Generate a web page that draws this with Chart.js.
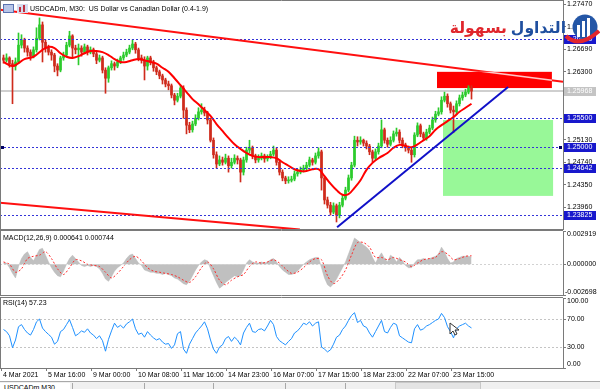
<!DOCTYPE html>
<html>
<head>
<meta charset="utf-8">
<script src="https://cdn.jsdelivr.net/npm/chart.js@4.4.1/dist/chart.umd.min.js"></script>
<style>
  html, body { margin: 0; padding: 0; background: #fff; }
  #wrap { position: relative; width: 600px; height: 389px; overflow: hidden; background: #fff; font-family: "Liberation Sans", Arial, sans-serif; }
  #wrap canvas { position: absolute; left: 0; }
  #tabs { position: absolute; left: 0; top: 381px; width: 600px; height: 8px; background: #f0f0f0; border-top: 1px solid #a8a8a8; }
  #tabs .t { position: absolute; top: 1px; height: 8px; border-left: 1px solid #a8a8a8; font-size: 7px; line-height: 9px; color: #000; padding-left: 4px; overflow: hidden; }
  #tabs .a { background: #fff; }
  #tabs .pop { position: absolute; left: 395px; top: 0; width: 84px; height: 8px; background: #e4e4e4; border: 1px solid #c8c8c8; }
</style>
</head>
<body>
<div id="wrap">
  <canvas id="main" width="600" height="230" style="top:0"></canvas>
  <canvas id="macd" width="600" height="66" style="top:230px"></canvas>
  <canvas id="rsi" width="600" height="85" style="top:296px"></canvas>
  <div id="tabs">
    <div class="t a" style="left:0;width:66px;border-left:none">USDCADm,M30</div>
    <div class="t" style="left:72px;width:66px"></div>
    <div class="t" style="left:144px;width:64px"></div>
    <div class="t" style="left:213px;width:66px"></div>
    <div class="t" style="left:285px;width:56px"></div>
    <div class="t" style="left:345px;width:40px"></div>
    <div class="pop"></div>
  </div>
</div>
<script>
// M30 USDCAD, one candle ~ every 3px of the screenshot
const closes = [
  1.2650, 1.2654, 1.2644, 1.2640, 1.2647, 1.2676, 1.2685, 1.2671, 1.2664, 1.2657,
  1.2668, 1.2688, 1.2711, 1.2681, 1.2671, 1.2664, 1.2659, 1.2640, 1.2633, 1.2654,
  1.2659, 1.2676, 1.2692, 1.2671, 1.2668, 1.2671, 1.2664, 1.2673, 1.2664, 1.2668,
  1.2661, 1.2650, 1.2654, 1.2633, 1.2619, 1.2637, 1.2644, 1.2640, 1.2647, 1.2654,
  1.2659, 1.2664, 1.2671, 1.2678, 1.2668, 1.2654, 1.2650, 1.2640, 1.2654, 1.2647,
  1.2637, 1.2630, 1.2623, 1.2616, 1.2609, 1.2606, 1.2590, 1.2581, 1.2588, 1.2602,
  1.2564, 1.2538, 1.2530, 1.2540, 1.2550, 1.2561, 1.2564, 1.2559, 1.2547, 1.2512,
  1.2487, 1.2471, 1.2478, 1.2474, 1.2481, 1.2468, 1.2474, 1.2481, 1.2478, 1.2457,
  1.2478, 1.2495, 1.2499, 1.2485, 1.2478, 1.2481, 1.2485, 1.2480, 1.2483, 1.2488,
  1.2495, 1.2474, 1.2457, 1.2447, 1.2442, 1.2443, 1.2445, 1.2454, 1.2457, 1.2461,
  1.2464, 1.2469, 1.2478, 1.2474, 1.2485, 1.2492, 1.2447, 1.2409, 1.2400, 1.2388,
  1.2399, 1.2383, 1.2400, 1.2412, 1.2426, 1.2447, 1.2469, 1.2512, 1.2509, 1.2512,
  1.2507, 1.2502, 1.2492, 1.2481, 1.2492, 1.2502, 1.2530, 1.2512, 1.2505, 1.2512,
  1.2523, 1.2526, 1.2512, 1.2504, 1.2499, 1.2495, 1.2487, 1.2521, 1.2537, 1.2523,
  1.2516, 1.2526, 1.2533, 1.2547, 1.2557, 1.2561, 1.2581, 1.2588, 1.2575, 1.2564,
  1.2561, 1.2575, 1.2585, 1.2590, 1.2595, 1.2602, 1.25968
];
const highs = [
  1.2659, 1.2661, 1.2656, 1.2650, 1.2654, 1.2697, 1.2694, 1.2688, 1.2675, 1.2668,
  1.2673, 1.2706, 1.2723, 1.2716, 1.2685, 1.2676, 1.2668, 1.2662, 1.2644, 1.2657,
  1.2664, 1.2681, 1.2700, 1.2694, 1.2676, 1.2678, 1.2675, 1.2678, 1.2676, 1.2673,
  1.2671, 1.2664, 1.2659, 1.2657, 1.2637, 1.2640, 1.2649, 1.2647, 1.2652, 1.2657,
  1.2664, 1.2669, 1.2676, 1.2685, 1.2681, 1.2671, 1.2659, 1.2656, 1.2657, 1.2657,
  1.2650, 1.2640, 1.2633, 1.2626, 1.2619, 1.2614, 1.2609, 1.2593, 1.2593, 1.2607,
  1.2606, 1.2568, 1.2543, 1.2545, 1.2556, 1.2568, 1.2575, 1.2569, 1.2562, 1.2550,
  1.2516, 1.2492, 1.2485, 1.2483, 1.2488, 1.2485, 1.2481, 1.2487, 1.2485, 1.2481,
  1.2483, 1.2500, 1.2512, 1.2502, 1.2488, 1.2487, 1.2490, 1.2488, 1.2487, 1.2493,
  1.2502, 1.2499, 1.2478, 1.2461, 1.2450, 1.2449, 1.2450, 1.2459, 1.2462, 1.2466,
  1.2469, 1.2474, 1.2483, 1.2481, 1.2490, 1.2499, 1.2495, 1.2450, 1.2414, 1.2405,
  1.2404, 1.2402, 1.2405, 1.2418, 1.2431, 1.2452, 1.2474, 1.2519, 1.2518, 1.2518,
  1.2514, 1.2511, 1.2505, 1.2495, 1.2497, 1.2507, 1.2547, 1.2533, 1.2516, 1.2518,
  1.2528, 1.2533, 1.2530, 1.2516, 1.2507, 1.2502, 1.2499, 1.2525, 1.2542, 1.2540,
  1.2526, 1.2531, 1.2538, 1.2552, 1.2562, 1.2568, 1.2587, 1.2595, 1.2592, 1.2578,
  1.2571, 1.2580, 1.2590, 1.2595, 1.2600, 1.2606, 1.2606
];
const lows = [
  1.2645, 1.2647, 1.2638, 1.2575, 1.2633, 1.2644, 1.2671, 1.2664, 1.2657, 1.2650,
  1.2654, 1.2664, 1.2685, 1.2647, 1.2664, 1.2659, 1.2650, 1.2630, 1.2623, 1.2630,
  1.2650, 1.2656, 1.2673, 1.2654, 1.2661, 1.2642, 1.2657, 1.2661, 1.2659, 1.2661,
  1.2656, 1.2644, 1.2647, 1.2628, 1.2593, 1.2612, 1.2633, 1.2633, 1.2637, 1.2644,
  1.2650, 1.2656, 1.2661, 1.2668, 1.2662, 1.2649, 1.2645, 1.2616, 1.2633, 1.2642,
  1.2631, 1.2625, 1.2618, 1.2609, 1.2604, 1.2599, 1.2585, 1.2573, 1.2578, 1.2585,
  1.2550, 1.2523, 1.2525, 1.2526, 1.2537, 1.2547, 1.2557, 1.2554, 1.2540, 1.2509,
  1.2481, 1.2464, 1.2468, 1.2469, 1.2471, 1.2457, 1.2464, 1.2471, 1.2471, 1.2440,
  1.2452, 1.2474, 1.2490, 1.2480, 1.2473, 1.2474, 1.2478, 1.2474, 1.2476, 1.2480,
  1.2485, 1.2469, 1.2452, 1.2442, 1.2437, 1.2438, 1.2440, 1.2442, 1.2450, 1.2454,
  1.2457, 1.2461, 1.2466, 1.2469, 1.2471, 1.2481, 1.2426, 1.2402, 1.2395, 1.2383,
  1.2385, 1.2371, 1.2378, 1.2397, 1.2409, 1.2423, 1.2443, 1.2466, 1.2502, 1.2505,
  1.2502, 1.2497, 1.2487, 1.2474, 1.2478, 1.2488, 1.2499, 1.2507, 1.2500, 1.2502,
  1.2509, 1.2519, 1.2507, 1.2499, 1.2493, 1.2490, 1.2474, 1.2483, 1.2518, 1.2518,
  1.2511, 1.2512, 1.2523, 1.2530, 1.2543, 1.2554, 1.2557, 1.2578, 1.2569, 1.2559,
  1.2525, 1.2557, 1.2571, 1.2581, 1.2587, 1.2592, 1.2583
];
const firstOpen = 1.2654;

// red moving average, read at these candle positions
const maIdx = [0, 3, 5, 7, 10, 13, 15, 17, 19, 21, 23, 25, 27, 29, 31, 33, 35, 37, 39, 41,
  43, 45, 47, 49, 51, 53, 55, 57, 59, 61, 63, 65, 67, 69, 71, 73, 75, 77, 79, 81,
  83, 85, 87, 89, 91, 93, 95, 97, 99, 101, 103, 105, 107, 109, 111, 113, 115, 117, 119, 121,
  123, 125, 128, 130, 132, 134, 136, 138, 140, 142, 144, 146, 148, 150, 152, 154, 156];
const maVal = [1.2647, 1.2640, 1.2645, 1.2652, 1.2656, 1.2668, 1.2673, 1.2671, 1.2662, 1.2656,
  1.2654, 1.2657, 1.2662, 1.2666, 1.2666, 1.2664, 1.2659, 1.2652, 1.2647, 1.2647,
  1.2650, 1.2652, 1.2650, 1.2647, 1.2644, 1.2637, 1.2630, 1.2619, 1.2607, 1.2595,
  1.2583, 1.2574, 1.2564, 1.2554, 1.2540, 1.2528, 1.2516, 1.2505, 1.2497, 1.2490,
  1.2485, 1.2483, 1.2483, 1.2483, 1.2481, 1.2474, 1.2468, 1.2462, 1.2459, 1.2459,
  1.2462, 1.2462, 1.2450, 1.2437, 1.2426, 1.2418, 1.2419, 1.2430, 1.2443, 1.2461,
  1.2473, 1.2481, 1.2490, 1.2499, 1.2504, 1.2502, 1.2500, 1.2505, 1.2512, 1.2519,
  1.2530, 1.2538, 1.2545, 1.2552, 1.2561, 1.2568, 1.2575];

// MACD(12,26,9): histogram per candle, signal read every 2 candles
const macdHist = [
  0.0001, 0.0001, -0.0003, -0.0008, -0.0012, -0.0002, 0.0005, 0.0009, 0.0011, 0.0006,
  0.0003, 0.0008, 0.0013, 0.0014, 0.0008, 0.0002, -0.0003, -0.0007, -0.0010, -0.0011,
  -0.0006, 0.0000, 0.0005, 0.0008, 0.0005, 0.0002, -0.0001, -0.0002, -0.0001, -0.0002,
  -0.0001, -0.0002, -0.0004, -0.0008, -0.0013, -0.0015, -0.0011, -0.0006, -0.0003, -0.0001,
  0.0001, 0.0005, 0.0008, 0.0009, 0.0005, 0.0001, -0.0001, -0.0005, -0.0006, -0.0007,
  -0.0007, -0.0008, -0.0008, -0.0009, -0.0008, -0.0009, -0.0010, -0.0012, -0.0013, -0.0015,
  -0.0017, -0.0018, -0.0015, -0.0010, -0.0005, -0.0001, 0.0002, 0.0004, 0.0003, -0.0004,
  -0.0010, -0.0016, -0.0021, -0.0019, -0.0016, -0.0014, -0.0012, -0.0010, -0.0011, -0.0010,
  -0.0005, 0.0001, 0.0004, 0.0002, 0.0001, 0.0001, 0.0002, 0.0001, 0.0002, 0.0004,
  0.0005, 0.0002, -0.0002, -0.0005, -0.0007, -0.0009, -0.0009, -0.0008, -0.0006, -0.0003,
  0.0000, 0.0002, 0.0004, 0.0005, 0.0006, 0.0006, -0.0003, -0.0012, -0.0018, -0.0020,
  -0.0017, -0.0013, -0.0008, -0.0003, 0.0002, 0.0009, 0.0016, 0.0023, 0.0021, 0.0019,
  0.0017, 0.0015, 0.0012, 0.0006, 0.0001, 0.0006, 0.0010, 0.0005, 0.0002, 0.0008,
  0.0006, 0.0002, 0.0006, 0.0003, -0.0001, -0.0003, -0.0003, 0.0001, 0.0004, 0.0004,
  0.0005, 0.0004, 0.0005, 0.0006, 0.0007, 0.0009, 0.0015, 0.0011, 0.0005, 0.0001,
  0.0002, 0.0005, 0.0006, 0.0007, 0.0007, 0.0007, 0.000641
];
const macdSignal = [
  0.0002, 0.0000, -0.0007, -0.0004, 0.0005, 0.0007, 0.0008, 0.0011, 0.0005, -0.0004,
  -0.0009, -0.0003, 0.0004, 0.0003, 0.0000, -0.0001, -0.0002, -0.0007, -0.0012, -0.0008,
  -0.0002, 0.0004, 0.0007, 0.0003, -0.0003, -0.0006, -0.0007, -0.0008, -0.0009, -0.0011,
  -0.0014, -0.0016, -0.0011, -0.0003, 0.0002, -0.0004, -0.0014, -0.0018, -0.0014, -0.0011,
  -0.0009, -0.0002, 0.0002, 0.0001, 0.0002, 0.0004, 0.0001, -0.0004, -0.0008, -0.0007,
  -0.0003, 0.0002, 0.0005, 0.0004, -0.0010, -0.0017, -0.0013, -0.0005, 0.0008, 0.0019,
  0.0019, 0.0015, 0.0006, 0.0006, 0.0004, 0.0006, 0.0004, 0.0002, -0.0002, 0.0001,
  0.0004, 0.0005, 0.0006, 0.0011, 0.0009, 0.0004, 0.0005, 0.0007, 0.000744
];
const signalStep = 2;

// RSI(14)
const rsiVals = [
  55, 52, 46, 29, 40, 59, 62, 55, 50, 47,
  55, 66, 70, 57, 52, 48, 44, 34, 38, 52,
  55, 62, 69, 58, 46, 49, 53, 51, 56, 50,
  47, 42, 46, 39, 24, 41, 53, 64, 58, 61,
  57, 63, 66, 70, 56, 48, 50, 44, 52, 47,
  43, 40, 42, 37, 34, 35, 28, 33, 49, 52,
  27, 21, 34, 42, 50, 55, 60, 66, 56, 40,
  27, 21, 30, 33, 42, 45, 38, 44, 40, 33,
  50, 58, 64, 52, 51, 55, 56, 53, 60, 68,
  62, 45, 39, 36, 33, 38, 42, 50, 53, 58,
  64, 62, 66, 60, 64, 66, 30, 27, 23, 26,
  34, 44, 47, 55, 60, 68, 75, 79, 65, 68,
  60, 58, 50, 44, 52, 60, 68, 52, 50, 58,
  64, 62, 46, 43, 40, 37, 36, 56, 62, 54,
  56, 60, 62, 65, 68, 70, 78, 72, 59, 52,
  43, 56, 60, 62, 64, 60, 57.23
];

const timeLabels = ['4 Mar 2021', '5 Mar 16:00', '9 Mar 00:00', '10 Mar 08:00', '11 Mar 16:00',
  '14 Mar 23:00', '16 Mar 07:00', '17 Mar 15:00', '18 Mar 23:00', '22 Mar 07:00', '23 Mar 15:00'];
const timeTickIdx = [-0.83, 14.17, 29.17, 44.17, 59.17, 74.17, 89.17, 104.17, 119.17, 134.17, 149.17];

const priceTicks = [1.2747, 1.2708, 1.2669, 1.2630, 1.2591, 1.2552, 1.2513, 1.2474, 1.2435, 1.2396];
const levelPrices = [1.2687, 1.2550, 1.2500, 1.24642, 1.23825];
const bidPrice = 1.25968;
const macdTicks = [0.002919, 0, -0.002698];
const rsiTicks = [100, 70, 30, 0];
const rsiLevels = [70, 30];

// drawn objects, as [candle index, price]
const upperChannel = [[-1.17, 1.2737], [186.5, 1.2613]];
const lowerChannel = [[-1.17, 1.2404], [98.8, 1.2358]];
const trendLine = [[111.2, 1.2362], [168.2, 1.2604]];
const redZone = [144.5, 182.8, 1.2630, 1.2602];
const greenZone = [146.5, 183.2, 1.2547, 1.2416];

const FONT = '"Liberation Sans", Arial, sans-serif';
const X_MIN = -1.1667, X_MAX = 186.5;
const AXIS = '#7a7a7a';
Chart.defaults.font.family = FONT;
Chart.defaults.font.size = 7;

const opens = closes.map((c, i) => (i === 0 ? firstOpen : closes[i - 1]));
const candleCol = closes.map((c, i) => (c >= opens[i] ? '#2ccb2c' : '#cf2b1c'));

function hiddenX() {
  return { type: 'linear', min: X_MIN, max: X_MAX, offset: false, display: false, grid: { offset: false } };
}

function sideAxis(min, max, tickVals, showLabels) {
  return {
    position: 'right', min: min, max: max,
    afterBuildTicks: s => { s.ticks = tickVals.map(v => ({ value: v })); },
    afterFit: s => { s.width = 37; s.paddingTop = 0; s.paddingBottom = 0; },
    grid: { drawOnChartArea: false, drawTicks: true, tickLength: 3, color: AXIS },
    border: { display: true, color: AXIS },
    ticks: { display: showLabels, color: '#000', padding: 1, font: { size: 7 }, callback: v => Number(v).toFixed(5) }
  };
}

function frame(chart, bottom) {
  const { ctx, chartArea: a } = chart;
  ctx.save();
  ctx.strokeStyle = AXIS;
  ctx.lineWidth = 1;
  ctx.beginPath();
  ctx.moveTo(0.5, a.top); ctx.lineTo(0.5, a.bottom);
  const t = Math.max(a.top - 0.5, 0.5);
  ctx.moveTo(0, t); ctx.lineTo(a.right, t);
  if (bottom) { ctx.moveTo(0, a.bottom + 0.5); ctx.lineTo(a.right, a.bottom + 0.5); }
  ctx.stroke();
  ctx.restore();
}

function sideLabels(chart, vals, offs, digits) {
  const { ctx, scales: { y } } = chart;
  ctx.save();
  ctx.font = '7px ' + FONT;
  ctx.fillStyle = '#000';
  ctx.textBaseline = 'middle';
  vals.forEach((v, k) => {
    const txt = v.toFixed(digits);
    ctx.fillText(txt, y.left + (txt[0] === '-' ? 2 : 4), y.getPixelForValue(v) + offs[k]);
  });
  ctx.restore();
}

function hDotted(chart, v, col) {
  const { ctx, chartArea: a, scales: { y } } = chart;
  const yy = Math.round(y.getPixelForValue(v)) + 0.5;
  ctx.save();
  ctx.strokeStyle = col;
  ctx.setLineDash([2, 2]);
  ctx.beginPath(); ctx.moveTo(a.left, yy); ctx.lineTo(a.right, yy); ctx.stroke();
  ctx.restore();
}

const mainDecor = {
  id: 'mainDecor',
  beforeDatasetsDraw(chart) {
    const { ctx, chartArea: a, scales: { x, y } } = chart;
    ctx.save();
    ctx.beginPath(); ctx.rect(a.left, a.top, a.right - a.left, a.bottom - a.top); ctx.clip();
    const zone = (z, col) => {
      const x0 = x.getPixelForValue(z[0]), x1 = x.getPixelForValue(z[1]);
      const y0 = y.getPixelForValue(z[2]), y1 = y.getPixelForValue(z[3]);
      ctx.fillStyle = col;
      ctx.fillRect(x0, y0, x1 - x0, y1 - y0);
    };
    zone(greenZone, '#98f898');
    zone(redZone, '#ff0000');
    const yb = Math.round(y.getPixelForValue(bidPrice));
    ctx.fillStyle = '#cfcfcf';
    ctx.fillRect(a.left, yb - 1, a.right - a.left, 2);
    ctx.restore();
  },
  afterDatasetsDraw(chart) {
    const { ctx, chartArea: a, scales: { x, y } } = chart;
    levelPrices.forEach(v => hDotted(chart, v, '#3434d8'));
    ctx.save();
    ctx.beginPath(); ctx.rect(a.left, a.top, a.right - a.left, a.bottom - a.top); ctx.clip();
    const seg = (p, col, w) => {
      ctx.strokeStyle = col; ctx.lineWidth = w;
      ctx.beginPath();
      ctx.moveTo(x.getPixelForValue(p[0][0]), y.getPixelForValue(p[0][1]));
      ctx.lineTo(x.getPixelForValue(p[1][0]), y.getPixelForValue(p[1][1]));
      ctx.stroke();
    };
    seg(upperChannel, '#ff1010', 2);
    seg(lowerChannel, '#ff1010', 2);
    seg(trendLine, '#1010c8', 2);
    // the channel line shows light where it crosses the filled red zone
    const rx0 = x.getPixelForValue(redZone[0]), rx1 = x.getPixelForValue(redZone[1]);
    const ry0 = y.getPixelForValue(redZone[2]), ry1 = y.getPixelForValue(redZone[3]);
    ctx.beginPath(); ctx.rect(rx0, ry0, rx1 - rx0, ry1 - ry0); ctx.clip();
    seg(upperChannel, '#ffc8c8', 1.5);
    ctx.restore();
    // small handles on the 1.25000 line
    const y5 = Math.round(y.getPixelForValue(levelPrices[2]));
    ctx.fillStyle = '#000060';
    ctx.fillRect(1, y5 - 1, 3, 3);
    ctx.fillRect(559, y5 - 1, 3, 3);
  },
  afterDraw(chart) {
    const { ctx, scales: { y } } = chart;
    frame(chart, true);
    ctx.save();
    // window icons + title
    ctx.fillStyle = '#b8c6e8'; ctx.fillRect(3, 4, 11, 9);
    ctx.strokeStyle = '#5a72b0'; ctx.lineWidth = 1; ctx.strokeRect(3.5, 4.5, 10, 8);
    ctx.fillStyle = '#d6dcef'; ctx.fillRect(17, 4, 11, 9);
    ctx.fillStyle = '#c03040'; ctx.fillRect(19, 7, 2, 5); ctx.fillRect(23, 5, 2, 7);
    ctx.font = '7px ' + FONT;
    ctx.fillStyle = '#000';
    ctx.textBaseline = 'middle';
    ctx.fillText('USDCADm, M30:  US Dollar vs Canadian Dollar (0.4-1.9)', 30, 9);
    // price boxes on the axis
    const box = (v, bg) => {
      const yy = Math.round(y.getPixelForValue(v));
      ctx.fillStyle = bg;
      ctx.fillRect(564, yy - 4, 32, 9);
      ctx.fillStyle = '#fff';
      ctx.fillText(v.toFixed(5), 567, yy + 0.5);
    };
    levelPrices.forEach(v => box(v, '#1818cc'));
    box(bidPrice, '#c4c4c4');
    // logo
    const blueWord = 'التداول', redWord = 'بسهولة';
    ctx.font = 'bold 18px "DejaVu Sans", sans-serif';
    const fs = 18 * 55 / ctx.measureText(blueWord).width;
    ctx.font = 'bold ' + fs.toFixed(1) + 'px "DejaVu Sans", sans-serif';
    const wBlue = ctx.measureText(blueWord).width;
    ctx.textAlign = 'right';
    ctx.textBaseline = 'alphabetic';
    ctx.fillStyle = '#1f4f9f';
    ctx.fillText(blueWord, 566, 33);
    ctx.fillStyle = '#e0262c';
    ctx.fillText(redWord, 566 - wBlue - 4, 33);
    ctx.fillStyle = '#2456a6';
    ctx.beginPath(); ctx.arc(585, 27, 12.5, 0, Math.PI * 2); ctx.fill();
    ctx.fillStyle = '#fff';
    ctx.fillRect(577, 25, 3, 12); ctx.fillRect(582, 21, 3, 16); ctx.fillRect(587, 18, 3, 19);
    ctx.strokeStyle = '#e3262d'; ctx.lineWidth = 4;
    ctx.beginPath(); ctx.moveTo(566, 36); ctx.quadraticCurveTo(579, 49, 599, 31); ctx.stroke();
    ctx.restore();
  }
};

new Chart(document.getElementById('main'), {
  type: 'bar',
  data: {
    datasets: [
      { type: 'line', data: maIdx.map((i, k) => ({ x: i, y: maVal[k] })), borderColor: '#ff0000', borderWidth: 2,
        pointRadius: 0, tension: 0.4, order: 0 },
      { type: 'bar', data: closes.map((c, i) => ({ x: i, y: [opens[i], c] })), backgroundColor: candleCol,
        barThickness: 2, minBarLength: 1, grouped: false, order: 1 },
      { type: 'bar', data: closes.map((c, i) => ({ x: i, y: [lows[i], highs[i]] })), backgroundColor: candleCol,
        barThickness: 1, grouped: false, order: 2 }
    ]
  },
  options: {
    responsive: false, animation: false, events: [],
    layout: { padding: { left: 0, right: 0, top: 0, bottom: 1 } },
    plugins: { legend: { display: false }, tooltip: { enabled: false } },
    scales: { x: hiddenX(), y: sideAxis(1.23589, 1.27539, priceTicks, true) }
  },
  plugins: [mainDecor]
});

new Chart(document.getElementById('macd'), {
  type: 'line',
  data: {
    datasets: [
      { data: macdSignal.map((v, k) => ({ x: k * signalStep, y: v })), borderColor: '#ff2a2a',
        borderWidth: 1, borderDash: [2, 2], pointRadius: 0, tension: 0.3, fill: false, order: 0 },
      // dense MT4 histogram, drawn as a filled profile from zero
      { data: macdHist.map((v, i) => ({ x: i, y: v })), borderColor: '#b8b8b8', borderWidth: 0.5,
        backgroundColor: '#c0c0c0', fill: 'origin', pointRadius: 0, tension: 0, order: 1 }
    ]
  },
  options: {
    responsive: false, animation: false, events: [],
    layout: { padding: { left: 0, right: 0, top: 1, bottom: 1 } },
    plugins: { legend: { display: false }, tooltip: { enabled: false }, filler: { propagate: false } },
    scales: { x: hiddenX(), y: sideAxis(-0.002698, 0.002919, macdTicks, false) }
  },
  plugins: [{
    id: 'macdDecor',
    afterDatasetsDraw(chart) { hDotted(chart, 0, '#d2d2d2'); },
    afterDraw(chart) {
      frame(chart, true);
      sideLabels(chart, macdTicks, [3, 0, -3], 6);
      const ctx = chart.ctx;
      ctx.save();
      ctx.font = '7px ' + FONT; ctx.fillStyle = '#000'; ctx.textBaseline = 'middle';
      ctx.fillText('MACD(12,26,9) ' + macdHist[macdHist.length - 1].toFixed(6) + ' ' +
        macdSignal[macdSignal.length - 1].toFixed(6), 3, 8);
      ctx.restore();
    }
  }]
});

new Chart(document.getElementById('rsi'), {
  type: 'line',
  data: {
    datasets: [
      { data: rsiVals.map((v, i) => ({ x: i, y: v })), borderColor: '#1e90ff', borderWidth: 1, pointRadius: 0, tension: 0 }
    ]
  },
  options: {
    responsive: false, animation: false, events: [],
    layout: { padding: { left: 0, right: 0, top: 2, bottom: 0 } },
    plugins: { legend: { display: false }, tooltip: { enabled: false } },
    scales: {
      x: {
        type: 'linear', min: X_MIN, max: X_MAX, offset: false, position: 'bottom',
        afterBuildTicks: s => { s.ticks = timeTickIdx.map(v => ({ value: v })); },
        afterFit: s => { s.height = 13; s.paddingLeft = 0; s.paddingRight = 0; },
        grid: { drawOnChartArea: false, drawTicks: true, tickLength: 3, color: AXIS, offset: false },
        border: { display: true, color: AXIS },
        ticks: { autoSkip: false, maxRotation: 0, align: 'start', labelOffset: 2, padding: 0, color: '#000',
          font: { size: 7 }, callback: (v, k) => timeLabels[k] }
      },
      y: sideAxis(0, 100, rsiTicks, false)
    }
  },
  plugins: [{
    id: 'rsiDecor',
    beforeDatasetsDraw(chart) { rsiLevels.forEach(v => hDotted(chart, v, '#c4c4c4')); },
    afterDraw(chart) {
      frame(chart, false);
      sideLabels(chart, rsiTicks, [3, 0, 0, -4], 2);
      const ctx = chart.ctx;
      ctx.save();
      ctx.font = '7px ' + FONT; ctx.fillStyle = '#000'; ctx.textBaseline = 'middle';
      ctx.fillText('RSI(14) ' + rsiVals[rsiVals.length - 1].toFixed(2), 3, 7);
      // mouse pointer left on the chart
      ctx.translate(450, 27);
      ctx.beginPath();
      ctx.moveTo(0, 0); ctx.lineTo(0, 11); ctx.lineTo(3, 8); ctx.lineTo(5, 12);
      ctx.lineTo(7, 11); ctx.lineTo(5, 7); ctx.lineTo(9, 7); ctx.closePath();
      ctx.fillStyle = '#fff'; ctx.fill();
      ctx.strokeStyle = '#333'; ctx.lineWidth = 1; ctx.stroke();
      ctx.restore();
    }
  }]
});
</script>
</body>
</html>
